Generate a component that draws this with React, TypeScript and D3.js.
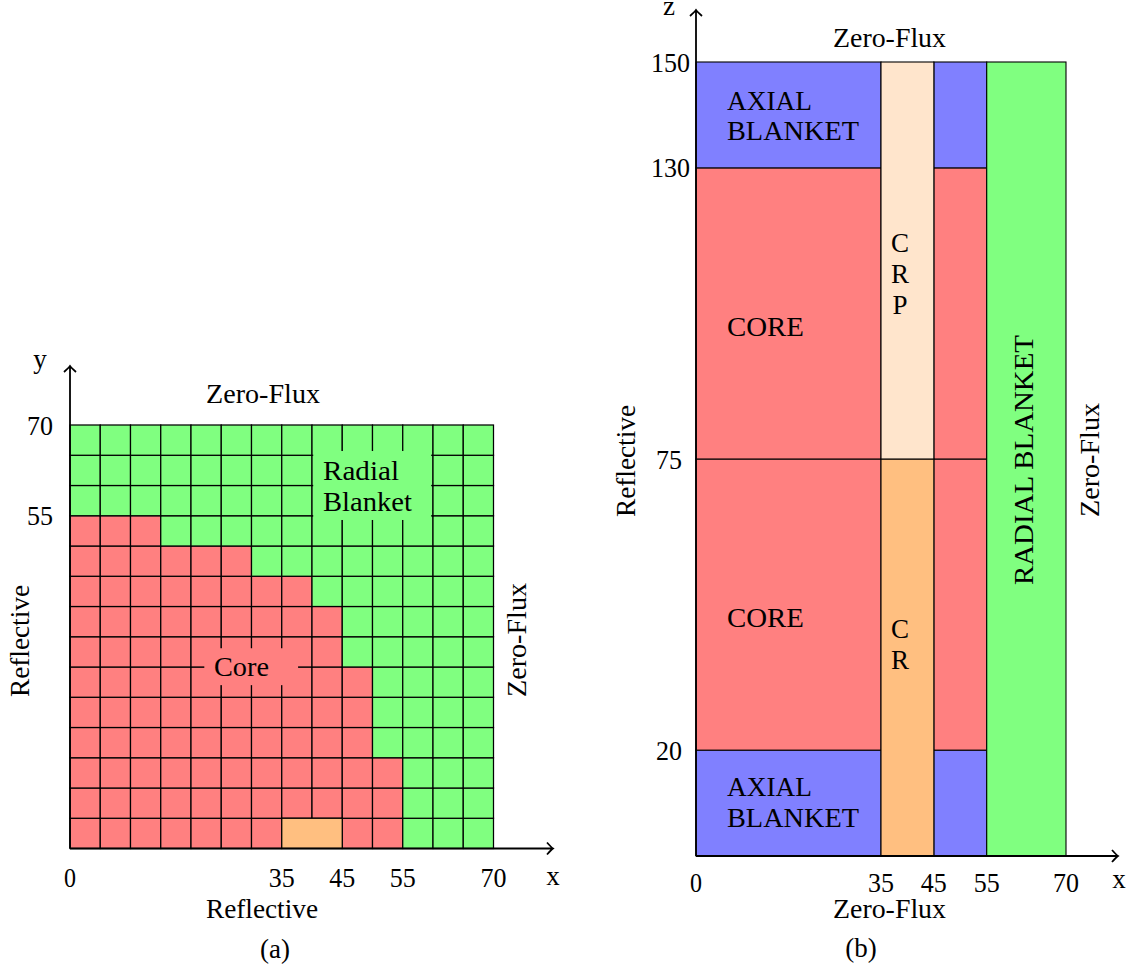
import React from "react";
import * as d3 from "d3";

const WIDTH = 1130;
const HEIGHT = 971;
const FONT = "'Liberation Serif', serif";
const RED = "#FF8080";
const GREEN = "#80FF80";
const BLUE = "#8080FF";
const ORANGE = "#FFBF80";
const PEACH = "#FFE5CC";

// Panel (a)
const cellSizeA = 5;
const gridCountA = 14;
const coreCellsPerRow = [11, 11, 11, 10, 10, 10, 9, 9, 8, 6, 3, 0, 0, 0];
const crCellRow = [{ x0: 35, x1: 45, y0: 0, y1: 5 }];
const xTicksA = [
  { v: 0, w: 12 },
  { v: 35, w: 26 },
  { v: 45, w: 26 },
  { v: 55, w: 26 },
  { v: 70, w: 26 },
];
const yTicksA = [55, 70];
const maskA = [
  { x0: 40.2, x1: 59.7, y0: 54.3, y1: 65.7, fill: GREEN },
  { x0: 22.2, x1: 37.7, y0: 27, y1: 33.1, fill: RED },
];

// Panel (b)
const regionsB = [
  { x0: 0, x1: 35, z0: 0, z1: 20, fill: BLUE },
  { x0: 45, x1: 55, z0: 0, z1: 20, fill: BLUE },
  { x0: 0, x1: 35, z0: 20, z1: 75, fill: RED },
  { x0: 45, x1: 55, z0: 20, z1: 75, fill: RED },
  { x0: 0, x1: 35, z0: 75, z1: 130, fill: RED },
  { x0: 45, x1: 55, z0: 75, z1: 130, fill: RED },
  { x0: 0, x1: 35, z0: 130, z1: 150, fill: BLUE },
  { x0: 45, x1: 55, z0: 130, z1: 150, fill: BLUE },
  { x0: 35, x1: 45, z0: 0, z1: 75, fill: ORANGE },
  { x0: 35, x1: 45, z0: 75, z1: 150, fill: PEACH },
  { x0: 55, x1: 70, z0: 0, z1: 150, fill: GREEN },
];
const xTicksB = [0, 35, 45, 55, 70];
const zTicksB = [20, 75, 130, 150];

const xA = d3.scaleLinear().domain([0, 70]).range([70, 493.5]);
const yA = d3.scaleLinear().domain([0, 70]).range([848.5, 425]);
const xB = d3.scaleLinear().domain([0, 70]).range([696, 1066]);
const zB = d3.scaleLinear().domain([0, 150]).range([856, 62]);

function T({ x, y, w, a = "start", r, size = 27, children }: any) {
  const transform = r ? `rotate(${r} ${x} ${y})` : undefined;
  return (
    <text
      x={x}
      y={y}
      textAnchor={a}
      transform={transform}
      fontFamily={FONT}
      fontSize={size}
      fill="#000"
      textLength={w}
      lengthAdjust={w ? "spacingAndGlyphs" : undefined}
    >
      {children}
    </text>
  );
}

function arrowPath(x0: number, y0: number, x1: number, y1: number) {
  const p = d3.path();
  p.moveTo(x0, y0);
  p.lineTo(x1, y1);
  const len = Math.hypot(x1 - x0, y1 - y0);
  const ux = (x1 - x0) / len;
  const uy = (y1 - y0) / len;
  const nx = -uy;
  const ny = ux;
  const b = 6;
  const s = 6;
  p.moveTo(x1 - ux * b + nx * s, y1 - uy * b + ny * s);
  p.quadraticCurveTo(x1 - ux * 1.5 + nx * 1, y1 - uy * 1.5 + ny * 1, x1, y1);
  p.quadraticCurveTo(x1 - ux * 1.5 - nx * 1, y1 - uy * 1.5 - ny * 1, x1 - ux * b - nx * s, y1 - uy * b - ny * s);
  return p.toString();
}

export default function App() {
  const rows = d3.range(gridCountA);
  const cols = d3.range(gridCountA);
  return (
    <svg
      width={WIDTH}
      height={HEIGHT}
      viewBox={`0 0 ${WIDTH} ${HEIGHT}`}
      style={{ position: "absolute", left: 0, top: 0, display: "block", background: "#fff" }}
    >
      {/* Panel (a) grid */}
      <g stroke="#000" strokeWidth={1.25}>
        {rows.map((r) =>
          cols
            .filter((c) => !(r === 0 && (c === 7 || c === 8)))
            .map((c) => (
              <rect
                key={`${r}-${c}`}
                x={xA(c * cellSizeA)}
                y={yA((r + 1) * cellSizeA)}
                width={xA(cellSizeA) - xA(0)}
                height={yA(0) - yA(cellSizeA)}
                fill={c < coreCellsPerRow[r] ? RED : GREEN}
              />
            ))
        )}
        {crCellRow.map((d, i) => (
          <rect
            key={i}
            x={xA(d.x0)}
            y={yA(d.y1)}
            width={xA(d.x1) - xA(d.x0)}
            height={yA(d.y0) - yA(d.y1)}
            fill={ORANGE}
          />
        ))}
      </g>
      {maskA.map((m, i) => (
        <rect
          key={i}
          x={xA(m.x0)}
          y={yA(m.y1)}
          width={xA(m.x1) - xA(m.x0)}
          height={yA(m.y0) - yA(m.y1)}
          fill={m.fill}
        />
      ))}
      <g fill="none" stroke="#000" strokeWidth={1.8}>
        <path d={arrowPath(xA(0), yA(0), 553, yA(0))} />
        <path d={arrowPath(xA(0), yA(0), xA(0), 366)} />
      </g>

      <T x={40} y={368} a="middle">y</T>
      {yTicksA.map((v) => (
        <T key={v} x={53} y={yA(v) + 9.5} a="end" w={26}>{v}</T>
      ))}
      {xTicksA.map((d) => (
        <T key={d.v} x={xA(d.v)} y={887} a="middle" w={d.w}>{d.v}</T>
      ))}
      <T x={553} y={885} a="middle">x</T>
      <T x={206} y={403} w={114}>Zero-Flux</T>
      <T x={206} y={918} w={112}>Reflective</T>
      <T x={275} y={958} a="middle">(a)</T>
      <T x={29} y={697} w={112} r={-90}>Reflective</T>
      <T x={526} y={697} w={114} r={-90}>Zero-Flux</T>
      <T x={214} y={676} w={55}>Core</T>
      <T x={323} y={480} w={76}>Radial</T>
      <T x={323} y={511} w={89}>Blanket</T>

      {/* Panel (b) */}
      <g stroke="#000" strokeWidth={1.1}>
        {regionsB.map((d, i) => (
          <rect
            key={i}
            x={xB(d.x0)}
            y={zB(d.z1)}
            width={xB(d.x1) - xB(d.x0)}
            height={zB(d.z0) - zB(d.z1)}
            fill={d.fill}
          />
        ))}
      </g>
      <g fill="none" stroke="#000" strokeWidth={1.8}>
        <path d={arrowPath(xB(0), zB(0), 1118, zB(0))} />
        <path d={arrowPath(xB(0), zB(0), xB(0), 10)} />
      </g>

      <T x={669} y={15} a="middle">z</T>
      {zTicksB.map((v) => (
        <T key={v} x={v >= 100 ? 690 : 682} y={zB(v) + 9.5} a="end" w={v >= 100 ? 39 : 26}>{v}</T>
      ))}
      {xTicksB.map((v) => (
        <T key={v} x={xB(v)} y={892} a="middle" w={v === 0 ? 12 : 26}>{v}</T>
      ))}
      <T x={1119} y={888} a="middle">x</T>
      <T x={833} y={47} w={113}>Zero-Flux</T>
      <T x={833} y={918} w={113}>Zero-Flux</T>
      <T x={861} y={957} a="middle">(b)</T>
      <T x={635} y={517} w={112} r={-90}>Reflective</T>
      <T x={1099} y={517} w={114} r={-90}>Zero-Flux</T>
      <T x={1033} y={585} w={250} r={-90}>RADIAL BLANKET</T>

      <T x={727} y={110} w={85}>AXIAL</T>
      <T x={727} y={140} w={132}>BLANKET</T>
      <T x={727} y={336} w={77}>CORE</T>
      <T x={727} y={627} w={77}>CORE</T>
      <T x={727} y={796} w={85}>AXIAL</T>
      <T x={727} y={827} w={132}>BLANKET</T>
      <T x={900} y={252} a="middle">C</T>
      <T x={900} y={283} a="middle">R</T>
      <T x={900} y={314} a="middle">P</T>
      <T x={900} y={638} a="middle">C</T>
      <T x={900} y={669} a="middle">R</T>
    </svg>
  );
}
